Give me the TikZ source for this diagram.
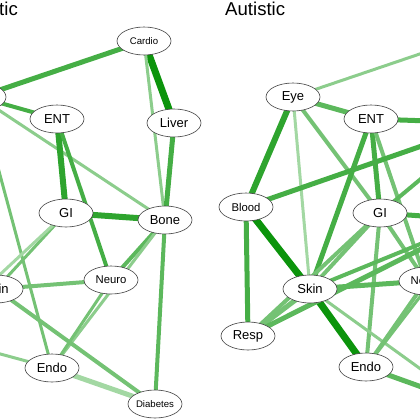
\documentclass[tikz,border=0pt]{standalone}
\usepackage{fontspec}
\setmainfont{Liberation Sans}
\usetikzlibrary{shapes.geometric}
\pgfdeclarelayer{bg}
\pgfsetlayers{bg,main}
\definecolor{gA}{HTML}{0C940C}
\definecolor{gB}{HTML}{2EA42E}
\definecolor{gC}{HTML}{45AE45}
\definecolor{gD}{HTML}{5CB85C}
\definecolor{gE}{HTML}{74C274}
\definecolor{gF}{HTML}{8CCD8C}
\definecolor{gG}{HTML}{A3D8A3}
\tikzset{
  org/.style={ellipse, draw=black!75, line width=0.6pt, fill=white,
    minimum width=54pt, minimum height=28pt, inner sep=0pt,
    font=\fontsize{13}{13}\selectfont},
  midorg/.style={org, font=\fontsize{11.3}{11.3}\selectfont},
  smlorg/.style={org, font=\fontsize{9.6}{9.6}\selectfont},
  ed/.style n args={2}{line width=#1pt, draw=#2},
  ttl/.style={anchor=base west, inner sep=0pt, font=\fontsize{18.6}{18.6}\selectfont}
}
\begin{document}
\begin{tikzpicture}[x=1pt,y=-1pt]
\useasboundingbox (0,0) rectangle (420,420);
\clip (0,0) rectangle (420,420);
% titles
\node[ttl] (t1) at (-1,16) {tic};
\node[ttl] (t2) at (225,16) {Autistic};
% left panel nodes
\node[org] (LEye) at (-21,97) {};
\node[smlorg] (LCardio) at (144,41) {Cardio};
\node[org] (LENT) at (57,119) {ENT};
\node[org] (LLiver) at (174,123) {Liver};
\node[org] (LGI) at (66,213) {GI};
\node[org] (LBone) at (165,220) {Bone};
\node[midorg] (LNeuro) at (111,280) {Neuro};
\node[org] (LSkin) at (-4,289) {Skin};
\coordinate (LResp) at (-66,336);
\node[org] (LEndo) at (52,368) {Endo};
\node[smlorg] (LDiab) at (155,404) {Diabetes};
% right panel nodes
\node[org] (REye) at (293,97) {Eye};
\node[org] (RENT) at (371,119) {ENT};
\node[midorg] (RBlood) at (246,207) {Blood};
\node[org] (RGI) at (380,213) {GI};
\node[org] (RSkin) at (310,289) {Skin};
\node[midorg] (RNeuro) at (426,281) {Neuro};
\node[org] (RResp) at (248,336) {Resp};
\node[org] (REndo) at (366,367) {Endo};
\coordinate (RCardio) at (458,41);
\coordinate (RLiver) at (488,123);
\coordinate (RBone) at (479,220);
\coordinate (RDiab) at (469,404);
\begin{pgfonlayer}{bg}
\clip (0,0) rectangle (420,420);
% left edges
\draw[ed={5}{gC}] (LEye.center) -- (LCardio.center);
\draw[ed={4}{gC}] (LEye.center) -- (LENT.center);
\draw[ed={3}{gF}] (LEye.center) -- (LBone.center);
\draw[ed={3}{gE}] (LEye.center) -- (LEndo.center);
\draw[ed={7}{gA}] (LCardio.center) -- (LLiver.center);
\draw[ed={3}{gF}] (LCardio.center) -- (LBone.center);
\draw[ed={5}{gC}] (LLiver.center) -- (LBone.center);
\draw[ed={6}{gB}] (LENT.center) -- (LGI.center);
\draw[ed={4}{gC}] (LENT.center) -- (LNeuro.center);
\draw[ed={6}{gB}] (LGI.center) -- (LBone.center);
\draw[ed={4}{gD}] (LBone.center) -- (LNeuro.center);
\draw[ed={3}{gF}] (LBone.center) -- (LEndo.center);
\draw[ed={3}{gE}] (LNeuro.center) -- (LEndo.center);
\draw[ed={3}{gE}] (LGI.center) -- (LSkin.center);
\draw[ed={3}{gG}] (LGI.center) -- (LResp);
\draw[ed={4}{gE}] (LSkin.center) -- (LNeuro.center);
\draw[ed={4}{gE}] (LSkin.center) -- (LDiab.center);
\draw[ed={5}{gG}] (LEndo.center) -- (LDiab.center);
\draw[ed={4}{gD}] (LBone.center) -- (LDiab.center);
\draw[ed={3}{gF}] (LResp) -- (LEndo.center);
% right edges
\draw[ed={3}{gF}] (REye.center) -- (RCardio);
\draw[ed={5}{gD}] (REye.center) -- (RENT.center);
\draw[ed={6}{gB}] (REye.center) -- (RBlood.center);
\draw[ed={3}{gG}] (REye.center) -- (RSkin.center);
\draw[ed={4}{gE}] (REye.center) -- (RGI.center);
\draw[ed={5}{gC}] (RENT.center) -- (RLiver);
\draw[ed={5}{gC}] (RENT.center) -- (RGI.center);
\draw[ed={5}{gC}] (RENT.center) -- (RSkin.center);
\draw[ed={4}{gE}] (RENT.center) -- (RNeuro.center);
\draw[ed={4}{gD}] (RGI.center) -- (RLiver);
\draw[ed={5}{gC}] (RGI.center) -- (RBone);
\draw[ed={4}{gE}] (RGI.center) -- (RSkin.center);
\draw[ed={4}{gE}] (RGI.center) -- (RResp.center);
\draw[ed={4}{gE}] (RGI.center) -- (RNeuro.center);
\draw[ed={4}{gE}] (RGI.center) -- (REndo.center);
\draw[ed={5}{gC}] (RBlood.center) -- (RLiver);
\draw[ed={7}{gA}] (RBlood.center) -- (RSkin.center);
\draw[ed={7}{gA}] (RSkin.center) -- (REndo.center);
\draw[ed={5}{gC}] (RBlood.center) -- (RResp.center);
\draw[ed={5}{gE}] (RResp.center) -- (RSkin.center);
\draw[ed={5}{gD}] (RResp.center) -- (RBone);
\draw[ed={4}{gD}] (RSkin.center) -- (RBone);
\draw[ed={5}{gD}] (RSkin.center) -- (RNeuro.center);
\draw[ed={3}{gF}] (RSkin.center) -- (RDiab);
\draw[ed={4}{gE}] (RNeuro.center) -- (REndo.center);
\draw[ed={3}{gE}] (RBone) -- (REndo.center);
\draw[ed={5}{gD}] (REndo.center) -- (RDiab);
\end{pgfonlayer}
\end{tikzpicture}
\end{document}
